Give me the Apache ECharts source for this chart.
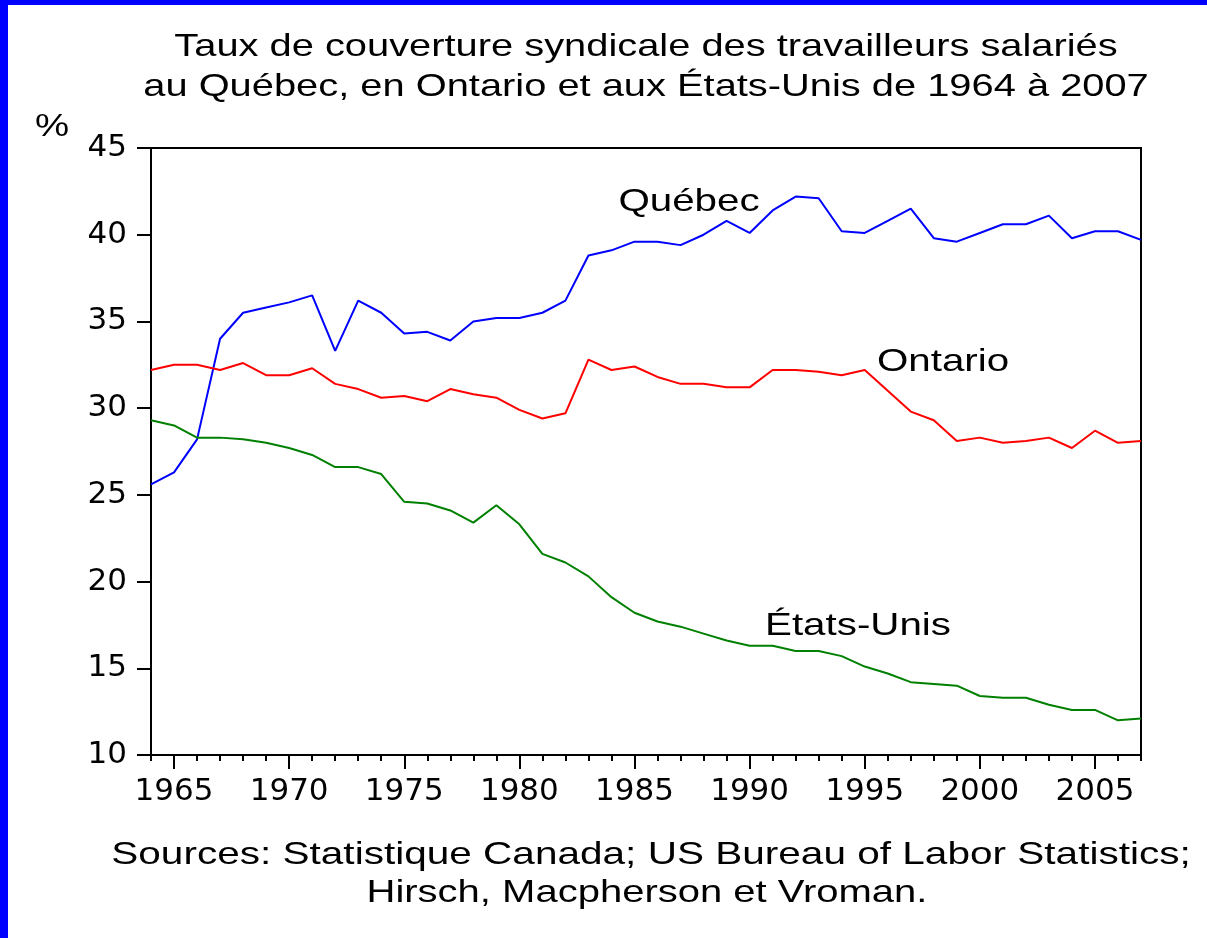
<!DOCTYPE html>
<html style="height: 100%">
<head>
	<meta charset="utf-8">
</head>
<body style="height: 100%; margin: 0; background: #fff">
<div id="container" style="position: absolute; left: 0; top: 0; width: 1207px; height: 938px; box-sizing: border-box; border-left: 8px solid #0000ff; border-top: 5px solid #0000ff; background: #fff"></div>
<script type="text/javascript" src="https://cdn.jsdelivr.net/npm/echarts@6/dist/echarts.min.js"></script>
<script type="text/javascript">
    var years = [];
    for (var y = 1964; y <= 2007; y++) years.push(String(y));

    var quebec = [
        25.6, 26.3, 28.2, 34.0, 35.5, 35.8, 36.1, 36.5, 33.3, 36.2,
        35.5, 34.3, 34.4, 33.9, 35.0, 35.2, 35.2, 35.5, 36.2, 38.8,
        39.1, 39.6, 39.6, 39.4, 40.0, 40.8, 40.1, 41.4, 42.2, 42.1,
        40.2, 40.1, 40.8, 41.5, 39.8, 39.6, 40.1, 40.6, 40.6, 41.1,
        39.8, 40.2, 40.2, 39.7
    ];
    var ontario = [
        32.2, 32.5, 32.5, 32.2, 32.6, 31.9, 31.9, 32.3, 31.4, 31.1,
        30.6, 30.7, 30.4, 31.1, 30.8, 30.6, 29.9, 29.4, 29.7, 32.8,
        32.2, 32.4, 31.8, 31.4, 31.4, 31.2, 31.2, 32.2, 32.2, 32.1,
        31.9, 32.2, 31.0, 29.8, 29.3, 28.1, 28.3, 28.0, 28.1, 28.3,
        27.7, 28.7, 28.0, 28.1
    ];
    var etatsUnis = [
        29.3, 29.0, 28.3, 28.3, 28.2, 28.0, 27.7, 27.3, 26.6, 26.6,
        26.2, 24.6, 24.5, 24.1, 23.4, 24.4, 23.3, 21.6, 21.1, 20.3,
        19.1, 18.2, 17.7, 17.4, 17.0, 16.6, 16.3, 16.3, 16.0, 16.0,
        15.7, 15.1, 14.7, 14.2, 14.1, 14.0, 13.4, 13.3, 13.3, 12.9,
        12.6, 12.6, 12.0, 12.1
    ];

    var titleLines = [
        'Taux de couverture syndicale des travailleurs salariés',
        'au Québec, en Ontario et aux États-Unis de 1964 à 2007'
    ];
    var sourceLines = [
        'Sources: Statistique Canada; US Bureau of Labor Statistics;',
        'Hirsch, Macpherson et Vroman.'
    ];

    var font = '"Liberation Sans", Arial, sans-serif';
    var axisFont = '"DejaVu Sans", sans-serif';
    var dom = document.getElementById("container");
    var myChart = echarts.init(dom, null, { width: 1199, height: 933 });

    // the container starts at x=8, y=5 because of the blue border
    function tx(x) { return x - 8; }
    function ty(y) { return y - 5; }

    // the original text is stretched sideways, so widen it a bit
    function textEl(str, x, y, size, sx) {
        return {
            type: 'text', x: tx(x), y: ty(y), scaleX: sx || 1.26,
            style: {
                text: str, font: size + 'px ' + font, fill: '#000',
                align: 'center', verticalAlign: 'middle'
            }
        };
    }

    var fiveYears = function (i, v) { return +v % 5 === 0; };

    var option = {
        backgroundColor: '#fff',
        animation: false,
        grid: {
            left: tx(151), top: ty(148), right: 1207 - 1141, bottom: 938 - 755,
            show: true, borderColor: '#000', borderWidth: 2, backgroundColor: 'transparent'
        },
        xAxis: [{
            type: 'category',
            data: years,
            boundaryGap: false,
            axisLine: { lineStyle: { color: '#000', width: 2 } },
            axisTick: { interval: 0, length: 6, lineStyle: { color: '#000', width: 2 } },
            axisLabel: {
                interval: fiveYears,
                margin: 21, fontSize: 31, color: '#000', fontFamily: axisFont
            },
            splitLine: { show: false }
        }, {
            type: 'category',
            data: years,
            boundaryGap: false,
            position: 'bottom',
            axisLine: { show: false },
            axisTick: { interval: fiveYears, length: 14, lineStyle: { color: '#000', width: 2 } },
            axisLabel: { show: false },
            splitLine: { show: false }
        }],
        yAxis: {
            type: 'value',
            min: 10, max: 45, interval: 5,
            axisLine: { show: true, lineStyle: { color: '#000', width: 2 } },
            axisTick: { show: true, length: 14, lineStyle: { color: '#000', width: 2 } },
            axisLabel: { margin: 24, fontSize: 31, color: '#000', fontFamily: axisFont },
            splitLine: { show: false }
        },
        series: [
            { name: 'Québec', type: 'line', data: quebec, showSymbol: false,
              lineStyle: { color: '#0000ff', width: 2 } },
            { name: 'Ontario', type: 'line', data: ontario, showSymbol: false,
              lineStyle: { color: '#ff0000', width: 2 } },
            { name: 'États-Unis', type: 'line', data: etatsUnis, showSymbol: false,
              lineStyle: { color: '#008000', width: 2 } }
        ],
        graphic: [
            textEl(titleLines[0], 646, 47, 32, 1.245),
            textEl(titleLines[1], 646, 87, 32, 1.245),
            textEl('%', 52, 127, 32, 1.2),
            textEl('Québec', 689, 202, 32),
            textEl('Ontario', 943, 362, 32),
            textEl('États-Unis', 858, 626, 32),
            textEl(sourceLines[0], 651, 855, 32, 1.267),
            textEl(sourceLines[1], 647, 893, 32, 1.25)
        ]
    };

    myChart.setOption(option, true);
</script>
</body>
</html>
